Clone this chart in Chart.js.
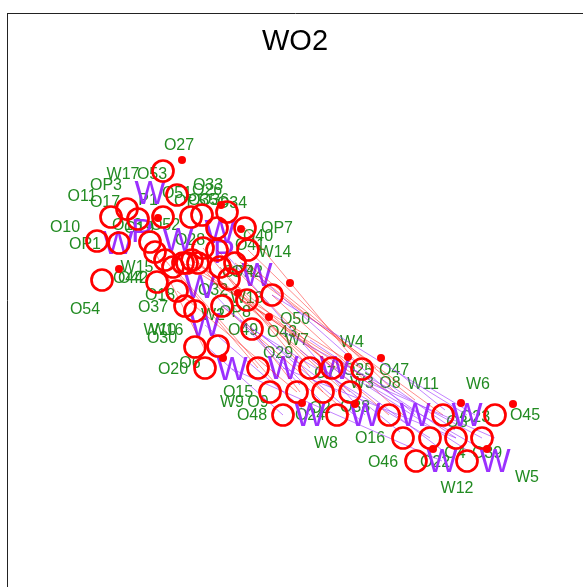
<!DOCTYPE html>
<html>
<head>
<meta charset="utf-8">
<style>
  html, body { margin: 0; padding: 0; background: #fff; overflow: hidden; }
  canvas { display: block; }
</style>
<script src="https://cdn.jsdelivr.net/npm/chart.js@4"></script>
</head>
<body>
<canvas id="ordination" width="583" height="587"></canvas>
<script>
const chartTitle = 'WO2';
const titleX = 295, titleY = 42;

// big red rings
const ringX = [163,177,127,111,138,163,191,202,227,217,245,97,119,150,155,157,102,165,173,183,187,192,198,217,203,248,235,220,229,272,247,222,185,195,177,252,195,218,205,258,310,332,362,270,297,323,350,283,337,389,443,495,403,430,456,482,416,467];
const ringY = [171,195,209,217,219,217,217,215,212,228,228,241,243,242,252,282,280,260,267,263,263,260,263,250,248,250,263,267,279,295,300,306,306,311,291,329,347,346,368,368,368,368,369,392,392,392,392,415,415,415,415,415,438,438,438,438,461,461];

// small red dots
const dotX = [182,221,158,241,119,290,238,269,223,348,381,302,355,461,513,433,487];
const dotY = [160,205,218,229,269,283,293,317,358,357,358,403,404,403,404,449,449];

// purple letters
const letterNames = ['W','W','P','W','W','P','W','W','W','W','W','W','W','W','W','W','W','W'];
const letterX = [150,118,142,178,220,224,200,257,205,232,283,335,310,365,415,467,442,495];
const letterY = [195,245,233,242,234,254,289,277,327,371,370,370,417,417,417,417,463,463];

// green labels
const labelNames = ['O27','W17','O53','OP3','O11','O17','P1','O10','OP1','O33','O26','O51','O34','O35','OP5','O36','OP7','O40','O41','W14','O54','O37','O18','O44','O42','W15','O19','O13','O52','O28','W10','W16','O30','O20','O6','OP2','OP4','O32','W13','W2','OP8','O49','O43','O50','W7','O29','O15','W9','O9','O48','W4','O25','O47','W3','O8','W11','W6','O23','O45','O3','O16','O46','O22','O4','O39','W5','W12','W8','O24','O2','O38','O7'];
const labelX = [179,123,152,106,82,105,148,65,85,208,207,177,232,203,190,214,277,258,250,275,85,153,160,128,133,137,139,127,165,190,160,167,162,173,190,247,238,213,247,213,235,243,282,295,297,278,238,232,258,252,352,358,394,362,390,423,478,475,525,457,370,383,435,455,487,527,457,326,310,320,355,325];
const labelY = [146,175,175,186,197,203,201,228,245,186,191,194,204,201,202,201,229,237,246,253,310,308,296,279,279,268,229,226,226,241,331,331,339,370,364,273,273,291,299,316,313,331,333,320,341,354,393,403,403,416,343,371,371,384,384,385,385,418,416,423,439,463,463,454,454,478,489,444,416,409,408,374];

// thin connecting lines, one from/to pair per segment
const redFromX = [192,183,198,187,217,203,229,235,220,248,245,173,272,177,222,165,155,228,205,190,240,212];
const redFromY = [260,263,263,263,250,248,279,263,267,250,228,267,295,291,306,260,252,248,270,255,262,280];
const redToX = [337,389,350,362,332,323,389,443,310,395,362,283,403,297,350,258,205,376,300,345,415,350];
const redToY = [368,392,392,369,368,392,415,415,368,392,369,392,415,392,415,368,350,368,392,392,400,372];
const purpleFromX = [205,232,224,252,257,283,222,205,272,283,335,310,215,240,262,300,325,350,368,380,395,430];
const purpleFromY = [325,369,252,329,275,368,306,345,295,332,368,340,295,320,335,350,362,375,385,378,370,388];
const purpleToX = [310,442,365,430,415,456,337,283,467,482,495,456,300,325,360,400,442,470,480,455,445,475];
const purpleToY = [415,461,415,438,415,438,392,415,415,438,438,438,385,405,420,432,450,452,448,430,410,415];

const segments = (fromX, fromY, toX, toY) => {
    const pts = [];
    fromX.forEach((x, i) => {
        pts.push({ x, y: fromY[i] }, { x: toX[i], y: toY[i] }, { x: null, y: null });
    });
    return pts;
};

// text marks drawn under the rings, through the scales
const textMarks = {
    id: 'textMarks',
    beforeDatasetsDraw(chart) {
        const { ctx, scales: { x, y } } = chart;
        ctx.save();
        ctx.textAlign = 'center';
        ctx.textBaseline = 'middle';

        ctx.font = '16px "Liberation Sans"';
        ctx.fillStyle = '#228b22';
        labelNames.forEach((name, i) => {
            ctx.fillText(name, x.getPixelForValue(labelX[i]), y.getPixelForValue(labelY[i]));
        });

        ctx.font = '33px "Liberation Sans"';
        ctx.fillStyle = '#9b30ff';
        letterNames.forEach((name, i) => {
            ctx.fillText(name, x.getPixelForValue(letterX[i]), y.getPixelForValue(letterY[i]));
        });

        ctx.font = '29px "Liberation Sans"';
        ctx.fillStyle = '#000';
        ctx.fillText(chartTitle, x.getPixelForValue(titleX), y.getPixelForValue(titleY));
        ctx.restore();
    }
};

const ctx = document.getElementById('ordination').getContext('2d');

new Chart(ctx, {
    type: 'scatter',
    data: {
        datasets: [
            {
                label: 'dots',
                data: dotX.map((x, i) => ({ x, y: dotY[i] })),
                pointRadius: 4,
                pointBackgroundColor: '#ff0000',
                pointBorderWidth: 0
            },
            {
                label: 'rings',
                data: ringX.map((x, i) => ({ x, y: ringY[i] })),
                pointRadius: 10.5,
                pointBackgroundColor: 'rgba(0,0,0,0)',
                pointBorderColor: '#ff0000',
                pointBorderWidth: 2.7
            },
            {
                label: 'purple lines',
                data: segments(purpleFromX, purpleFromY, purpleToX, purpleToY),
                showLine: true,
                spanGaps: false,
                pointRadius: 0,
                borderWidth: 1,
                borderColor: 'rgba(155,48,255,0.6)'
            },
            {
                label: 'red lines',
                data: segments(redFromX, redFromY, redToX, redToY),
                showLine: true,
                spanGaps: false,
                pointRadius: 0,
                borderWidth: 1,
                borderColor: 'rgba(255,0,0,0.45)'
            }
        ]
    },
    options: {
        responsive: false,
        animation: false,
        devicePixelRatio: 1,
        layout: { autoPadding: false, padding: { left: 7, top: 13, right: 0, bottom: 0 } },
        plugins: { legend: { display: false }, tooltip: { enabled: false } },
        scales: {
            x: {
                type: 'linear',
                position: 'top',
                min: 7,
                max: 583,
                grid: { display: false, drawTicks: false },
                ticks: { display: false },
                border: { display: true, color: '#222', width: 1 }
            },
            y: {
                type: 'linear',
                reverse: true,
                min: 13,
                max: 587,
                grid: { display: false, drawTicks: false },
                ticks: { display: false },
                border: { display: true, color: '#222', width: 1 }
            }
        }
    },
    plugins: [textMarks]
});
</script>
</body>
</html>
